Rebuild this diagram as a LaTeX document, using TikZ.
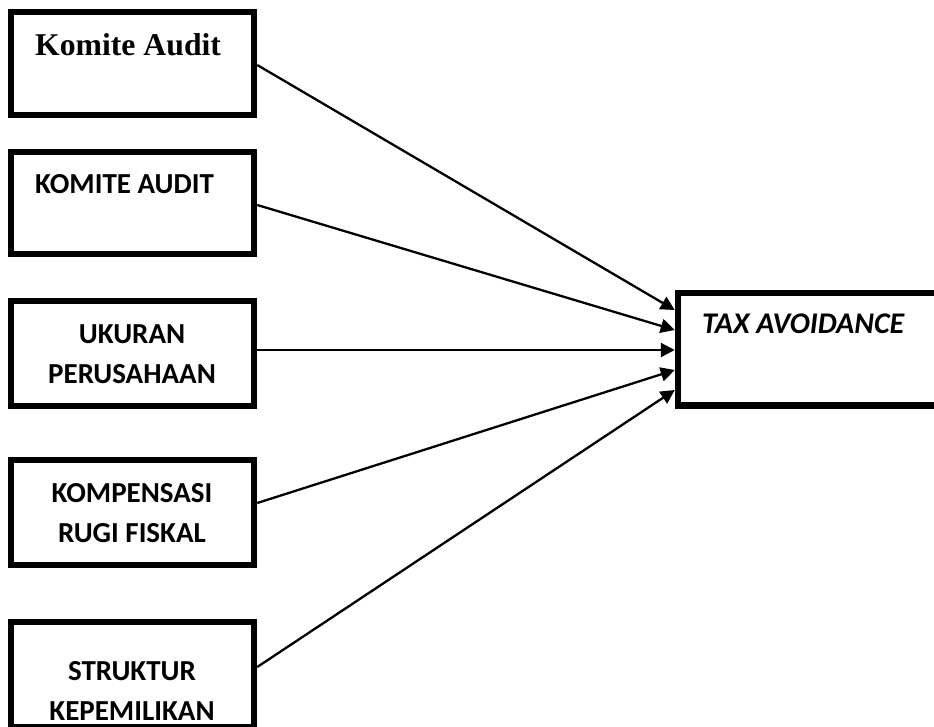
\documentclass[tikz,border=0pt]{standalone}
\usepackage{fontspec}
\setmainfont{Carlito}
\newfontfamily\komitefont{Liberation Serif}
\usetikzlibrary{positioning,arrows.meta}
\tikzset{
  varbox/.style ={rectangle, draw=black, line width=6.5pt, inner sep=0pt,
                  minimum width=243pt},
  vartxt/.style ={font=\fontsize{29}{40}\selectfont\bfseries, align=center,
                  inner sep=0pt, anchor=base},
  taxbox/.style ={varbox, minimum width=272pt, minimum height=112.5pt},
  % one influence arrow from a predictor to the dependent variable
  link/.style   ={draw=black, line width=2.3pt,
                  -{Triangle[length=14pt,width=14pt]}},
}
% name / centre y / box height / start shift / tip shift
\def\boxlist{b1/63.5/103/-1.5/39, b2/203/102/-2/19, b3/353.5/105/3.5/-1,
             b4/512.5/105/9.5/-21, b5/674.5/105/7.5/-41}
\begin{document}
\begin{tikzpicture}[x=1pt,y=-1pt]
\useasboundingbox (0,0) rectangle (934,726);
\clip (0,0) rectangle (934,726);
\foreach \n/\y/\h/\s/\t in \boxlist
  {\node[varbox, minimum height=\h pt] (\n) at (132.5,\y) {};}
\node[taxbox] (tax) at (814,349) {};
% texts (base anchor sits on the last line)
\node[vartxt, anchor=base west, font=\fontsize{31.7}{32}\selectfont\komitefont\bfseries]
   (t1) at (35,55) {Komite Audit};
\node[vartxt, anchor=base west] (t2) at (35,193) {KOMITE AUDIT};
\node[vartxt] (t3) at (132,383) {UKURAN\\PERUSAHAAN};
\node[vartxt] (t4) at (132,542) {KOMPENSASI\\RUGI FISKAL};
\node[vartxt] (t5) at (132,720) {STRUKTUR\\KEPEMILIKAN};
\node[vartxt, anchor=base west, font=\fontsize{30}{30}\selectfont\bfseries\itshape]
   (t6) at (702,333) {TAX AVOIDANCE};
\foreach \n/\y/\h/\s/\t in \boxlist
  {\draw[link] ([yshift=\s pt]\n.east) -- ([yshift=\t pt]tax.west);}
\end{tikzpicture}
\end{document}
